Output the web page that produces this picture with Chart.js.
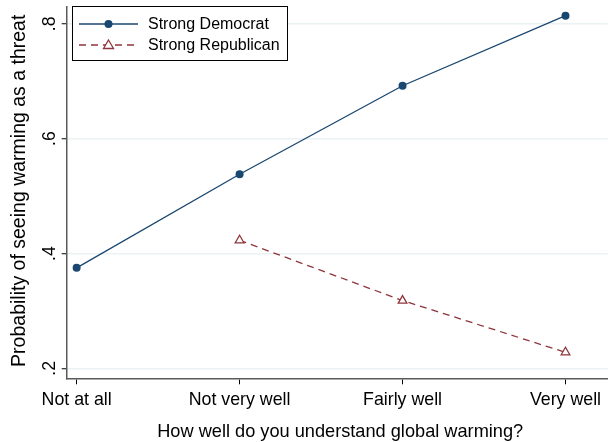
<!DOCTYPE html>
<html>
<head>
<meta charset="utf-8">
<script src="https://cdn.jsdelivr.net/npm/chart.js@4.4.1/dist/chart.umd.min.js"></script>
<style>
  html, body { margin: 0; padding: 0; background: #ffffff; }
  #wrap { width: 614px; height: 442px; }
</style>
</head>
<body>
<div id="wrap"><canvas id="chart" width="614" height="442"></canvas></div>
<script>
// Understanding of global warming vs. predicted probability of seeing it as a threat
const categories = ['Not at all', 'Not very well', 'Fairly well', 'Very well'];
const democratValues = [0.375, 0.538, 0.692, 0.814];
const republicanValues = [null, 0.423, 0.318, 0.228];
const yTickValues = [0.2, 0.4, 0.6, 0.8];
const yTickLabels = ['.2', '.4', '.6', '.8'];
const seriesNames = ['Strong Democrat', 'Strong Republican'];
const xTitle = 'How well do you understand global warming?';
const yTitle = 'Probability of seeing warming as a threat';

const NAVY = '#1a476f';
const MAROON = '#90353b';
const FONT = '"Liberation Sans", Arial, Helvetica, sans-serif';
const AXIS_SIZE = 17.8;
const X_TITLE_SIZE = 18.2;
const Y_TITLE_SIZE = 19.5;
const LEGEND_SIZE = 16;

const toPoints = vals => vals.map((v, i) => ({ x: i, y: v })).filter(p => p.y !== null);

// Rotated y tick labels, axis titles, x tick labels and the boxed legend
const decorations = {
  id: 'decorations',
  afterDraw(chart) {
    const ctx = chart.ctx;
    const x = chart.scales.x;
    const y = chart.scales.y;
    const area = chart.chartArea;
    ctx.save();
    ctx.fillStyle = '#000';
    ctx.font = AXIS_SIZE + 'px ' + FONT;
    ctx.textAlign = 'center';
    ctx.textBaseline = 'middle';
    yTickValues.forEach((v, i) => {
      const py = y.getPixelForValue(v);
      ctx.save();
      ctx.translate(50, py);
      ctx.rotate(-Math.PI / 2);
      ctx.fillText(yTickLabels[i], 0, 0);
      ctx.restore();
    });
    // x tick labels
    ctx.textBaseline = 'alphabetic';
    categories.forEach((c, i) => {
      ctx.fillText(c, x.getPixelForValue(i), 405);
    });
    // x title
    ctx.font = X_TITLE_SIZE + 'px ' + FONT;
    ctx.fillText(xTitle, (area.left + area.right) / 2 + 3, 436.5);
    // y title
    ctx.font = Y_TITLE_SIZE + 'px ' + FONT;
    ctx.textBaseline = 'middle';
    ctx.save();
    ctx.translate(20, (area.top + area.bottom) / 2 - 2);
    ctx.rotate(-Math.PI / 2);
    ctx.fillText(yTitle, 0, 0);
    ctx.restore();

    // legend
    ctx.font = LEGEND_SIZE + 'px ' + FONT;
    const bx = 72.5, by = 6.5, bw = 215, bh = 54;
    ctx.fillStyle = '#fff';
    ctx.fillRect(bx, by, bw, bh);
    ctx.strokeStyle = '#000';
    ctx.lineWidth = 1;
    ctx.strokeRect(bx, by, bw, bh);
    const rows = [
      { y: 24, color: NAVY, dash: [], marker: 'circle' },
      { y: 45, color: MAROON, dash: [7, 5], marker: 'triangle' }
    ];
    rows.forEach((r, i) => {
      ctx.strokeStyle = r.color;
      ctx.lineWidth = 1.3;
      ctx.setLineDash(r.dash);
      ctx.beginPath();
      ctx.moveTo(79, r.y);
      ctx.lineTo(138, r.y);
      ctx.stroke();
      ctx.setLineDash([]);
      if (r.marker === 'circle') {
        ctx.fillStyle = r.color;
        ctx.beginPath();
        ctx.arc(108.5, r.y, 4, 0, Math.PI * 2);
        ctx.fill();
      } else {
        ctx.fillStyle = '#fff';
        ctx.beginPath();
        ctx.moveTo(108.5, r.y - 5);
        ctx.lineTo(113.5, r.y + 3.5);
        ctx.lineTo(103.5, r.y + 3.5);
        ctx.closePath();
        ctx.fill();
        ctx.lineWidth = 1.3;
        ctx.stroke();
      }
      ctx.fillStyle = '#000';
      ctx.textAlign = 'left';
      ctx.fillText(seriesNames[i], 148, r.y + 0.5);
    });
    ctx.restore();
  }
};

new Chart(document.getElementById('chart'), {
  type: 'line',
  data: {
    datasets: [
      {
        label: seriesNames[0],
        data: toPoints(democratValues),
        borderColor: NAVY,
        backgroundColor: NAVY,
        borderWidth: 1.3,
        pointStyle: 'circle',
        pointRadius: 4,
        pointBorderWidth: 0,
        tension: 0
      },
      {
        label: seriesNames[1],
        data: toPoints(republicanValues),
        borderColor: MAROON,
        backgroundColor: '#ffffff',
        borderWidth: 1.3,
        borderDash: [7, 5],
        pointStyle: 'triangle',
        pointRadius: 5,
        pointBorderWidth: 1.3,
        pointBorderColor: MAROON,
        tension: 0
      }
    ]
  },
  options: {
    responsive: false,
    animation: false,
    devicePixelRatio: 1,
    layout: { padding: { left: 0, right: 2, top: 4, bottom: 0 } },
    plugins: {
      legend: { display: false },
      tooltip: { enabled: false }
    },
    scales: {
      x: {
        type: 'linear',
        min: -0.061,
        max: 3.259,
        afterBuildTicks: s => { s.ticks = categories.map((_, i) => ({ value: i })); },
        afterFit: s => { s.height = 63.7; },
        ticks: { autoSkip: false, maxRotation: 0, callback: () => '' },
        grid: { drawOnChartArea: false, drawTicks: true, tickLength: 6, tickColor: '#000', tickWidth: 1 },
        border: { display: true, color: '#5a5a5a', width: 1.5 }
      },
      y: {
        type: 'linear',
        min: 0.1827,
        max: 0.8288,
        afterBuildTicks: s => { s.ticks = yTickValues.map(v => ({ value: v })); },
        afterFit: s => { s.width = 66.7; },
        ticks: { callback: () => '', padding: 0 },
        grid: { color: '#eaf2f3', lineWidth: 1.5, drawTicks: true, tickLength: 5, tickColor: '#000', tickWidth: 1 },
        border: { display: true, color: '#5a5a5a', width: 1.5 }
      }
    }
  },
  plugins: [decorations]
});
</script>
</body>
</html>
